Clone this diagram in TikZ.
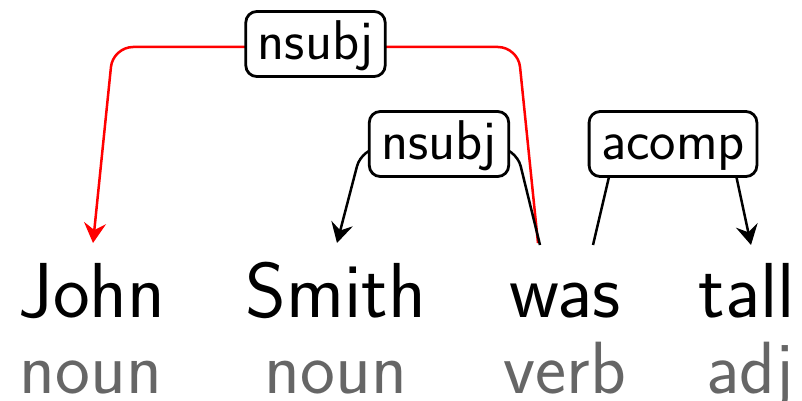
\documentclass[tikz,border=0pt]{standalone}
\usepackage{fontspec}
\usetikzlibrary{arrows.meta}
\definecolor{tagGray}{HTML}{666666}
\definecolor{arcRed}{HTML}{FF0000}
\tikzset{
  word/.style={anchor=base, inner sep=0pt, font=\fontsize{78}{80}\selectfont\sffamily},
  tagword/.style={anchor=base, inner sep=0pt, text=tagGray, font=\fontsize{74}{76}\selectfont\sffamily},
  deparc/.style={line width=2.5pt, rounded corners=20pt, -{Stealth[length=20pt,width=22pt,inset=7pt]}},
  lbl/.style={draw=black, line width=2.8pt, fill=white, rounded corners=11pt,
    font=\fontsize{56}{58}\selectfont\sffamily, inner xsep=12pt, inner ysep=5pt,
    text height=43pt, text depth=12pt, yshift=3pt}
}
\begin{document}
\begin{tikzpicture}[x=1pt,y=-1pt]
\useasboundingbox (0,0) rectangle (802,401);
% words
\node[word] (w1) at (92,317) {John};
\node[word] (w2) at (336,317) {Smith};
\node[word] (w3) at (565,317) {was};
\node[word] (w4) at (747,317) {tall};
% tags
\node[tagword] (t1) at (91,393) {noun};
\node[tagword] (t2) at (336,393) {noun};
\node[tagword] (t3) at (565,393) {verb};
\node[tagword] (t4) at (750,393) {adj};
% edge end points
\coordinate (w1in) at (93,243);
\coordinate (w2in) at (337,243);
\coordinate (w3outA) at (538,243);
\coordinate (w3outB) at (540,245);
\coordinate (w3outC) at (593,245);
\coordinate (w4in) at (751,245);
% edges
\draw[deparc, draw=arcRed, arcRed] (w3outA) -- (518,47) -- node[lbl, text=black] (l1) {nsubj} (113,47) -- (w1in);
\draw[deparc] (w3outB) -- (516,147) -- node[lbl] (l2) {nsubj} (362,147) -- (w2in);
\draw[deparc] (w3outC) -- (616,147) -- node[lbl] (l3) {acomp} (730,147) -- (w4in);
\end{tikzpicture}
\end{document}
